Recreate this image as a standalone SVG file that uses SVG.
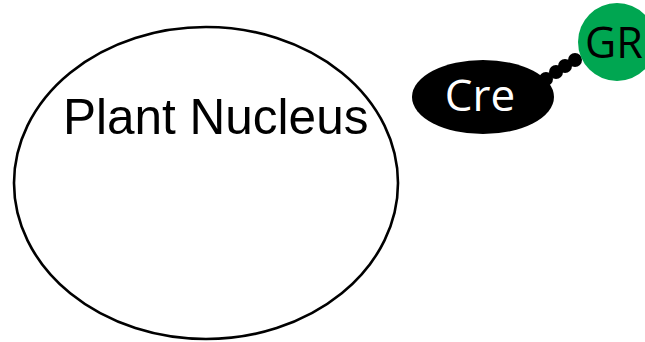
<svg xmlns="http://www.w3.org/2000/svg" width="645" height="342" viewBox="0 0 645 342">
<style>
.lbl{font-family:"Open Sans","Liberation Sans",sans-serif;}
.bead{fill:#000;}
</style>
<rect width="645" height="342" fill="#fff"/>
<g id="nucleus">
<ellipse cx="206" cy="183" rx="192" ry="156" fill="#fff" stroke="#000" stroke-width="2.6"/>
<text x="63" y="134" font-family="'Liberation Sans',Arial,sans-serif" font-size="49.5" fill="#000">Plant Nucleus</text>
</g>
<g id="connectors">
<circle class="bead" cx="546" cy="79" r="7"/>
<circle class="bead" cx="556" cy="72" r="7"/>
<circle class="bead" cx="565" cy="66" r="7"/>
<circle class="bead" cx="575" cy="60" r="7"/>
</g>
<g id="cre">
<ellipse cx="483" cy="97" rx="71" ry="37" fill="#000"/>
<text class="lbl" x="480" y="111" text-anchor="middle" font-size="44" fill="#fff">Cre</text>
</g>
<g id="gr">
<circle cx="617" cy="42" r="39" fill="#00A651"/>
<text class="lbl" x="585" y="58" font-size="43" fill="#000">GR</text>
</g>
</svg>
